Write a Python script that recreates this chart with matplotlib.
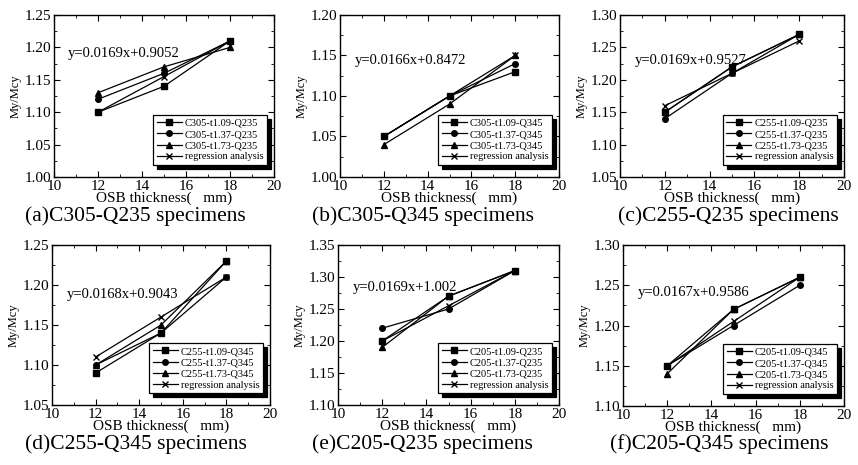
import numpy as np
import matplotlib
matplotlib.use("Agg")
import matplotlib.pyplot as plt
from matplotlib.ticker import MultipleLocator, FormatStrFormatter

plt.rcParams['font.family'] = ['Liberation Serif', 'DejaVu Serif']
plt.rcParams['mathtext.fontset'] = 'stix'

# OSB thickness (mm)
thickness = [12, 15, 18]

# My/Mcy: three section thicknesses + regression points
a_t109 = [1.10, 1.14, 1.21]
a_t137 = [1.12, 1.16, 1.21]
a_t173 = [1.13, 1.17, 1.20]
a_reg = [1.10, 1.155, 1.21]

b_t109 = [1.05, 1.10, 1.13]
b_t137 = [1.05, 1.10, 1.14]
b_t173 = [1.04, 1.09, 1.15]
b_reg = [1.05, 1.10, 1.15]

c_t109 = [1.15, 1.22, 1.27]
c_t137 = [1.14, 1.21, 1.27]
c_t173 = [1.15, 1.22, 1.27]
c_reg = [1.16, 1.21, 1.26]

d_t109 = [1.09, 1.14, 1.23]
d_t137 = [1.10, 1.14, 1.21]
d_t173 = [1.10, 1.15, 1.23]
d_reg = [1.11, 1.16, 1.21]

e_t109 = [1.20, 1.27, 1.31]
e_t137 = [1.22, 1.25, 1.31]
e_t173 = [1.19, 1.27, 1.31]
e_reg = [1.20, 1.255, 1.31]

f_t109 = [1.15, 1.22, 1.26]
f_t137 = [1.15, 1.20, 1.25]
f_t173 = [1.14, 1.22, 1.26]
f_reg = [1.15, 1.205, 1.26]

sections = ["C305", "C305", "C255", "C255", "C205", "C205"]
steels = ["Q235", "Q345", "Q235", "Q345", "Q235", "Q345"]
captions = ["(a)C305-Q235 specimens", "(b)C305-Q345 specimens", "(c)C255-Q235 specimens",
            "(d)C255-Q345 specimens", "(e)C205-Q235 specimens", "(f)C205-Q345 specimens"]
equations = ["y=0.0169x+0.9052", "y=0.0166x+0.8472", "y=0.0169x+0.9527",
             "y=0.0168x+0.9043", "y=0.0169x+1.002", "y=0.0167x+0.9586"]
eq_pos = [(10.64, 1.191), (10.68, 1.144), (10.67, 1.23),
          (10.69, 1.1875), (10.68, 1.284), (10.68, 1.241)]
ylims = [(1.00, 1.25), (1.00, 1.20), (1.05, 1.30), (1.05, 1.25), (1.10, 1.35), (1.10, 1.30)]
data = [(a_t109, a_t137, a_t173, a_reg), (b_t109, b_t137, b_t173, b_reg),
        (c_t109, c_t137, c_t173, c_reg), (d_t109, d_t137, d_t173, d_reg),
        (e_t109, e_t137, e_t173, e_reg), (f_t109, f_t137, f_t173, f_reg)]

# axes boxes in pixels: left, top, right, bottom
boxes = [(54, 15, 274, 177), (340, 15, 559, 177), (620, 15, 844, 177),
         (52, 245, 270, 405), (338, 245, 559, 405), (623, 245, 844, 406)]
cap_pos = [(25, 216), (312, 216), (618, 216), (25, 444), (312, 444), (610, 444)]

W, H = 858, 465
fig = plt.figure(figsize=(W / 100, H / 100), dpi=100)

for ii in range(6):
    l, t, r, b = boxes[ii]
    ax = fig.add_axes([l / W, 1 - b / H, (r - l) / W, (b - t) / H])
    s109, s137, s173, sreg = data[ii]
    kw = dict(color="black", lw=0.9, ms=4)
    ax.plot(thickness, s109, marker="s", label=f"{sections[ii]}-t1.09-{steels[ii]}", **kw)
    ax.plot(thickness, s137, marker="o", label=f"{sections[ii]}-t1.37-{steels[ii]}", **kw)
    ax.plot(thickness, s173, marker="^", label=f"{sections[ii]}-t1.73-{steels[ii]}", **kw)
    ax.plot(thickness, sreg, marker="x", label="regression analysis", color="black", lw=0.9, ms=5, mew=1)

    ax.set_xlim(10, 20)
    ax.set_ylim(*ylims[ii])
    ax.xaxis.set_major_locator(MultipleLocator(2))
    ax.xaxis.set_minor_locator(MultipleLocator(1))
    ax.yaxis.set_major_locator(MultipleLocator(0.05))
    ax.yaxis.set_minor_locator(MultipleLocator(0.025))
    ax.yaxis.set_major_formatter(FormatStrFormatter("%.2f"))
    ax.tick_params(which="both", direction="in", top=True, right=True, labelsize=11, pad=2)
    ax.tick_params(which="major", length=4, width=0.8)
    ax.tick_params(which="minor", length=2, width=0.6)
    for sp in ax.spines.values():
        sp.set_linewidth(1.0)

    ax.set_xlabel("OSB thickness(   mm)", fontsize=11, labelpad=-1)
    ax.set_ylabel("My/Mcy", fontsize=9, labelpad=2)
    ax.text(eq_pos[ii][0], eq_pos[ii][1], equations[ii], fontsize=10.5, va="center", ha="left")

    ax.legend(loc="lower right", bbox_to_anchor=(0.968, 0.074), borderaxespad=0,
              fontsize=7.5, frameon=True, fancybox=False, edgecolor="black",
              handlelength=2.4, handletextpad=0.3, labelspacing=0.18, borderpad=0.35,
              shadow={"ox": 3, "oy": -3, "facecolor": "black", "edgecolor": "black", "alpha": 1})
    ax.get_legend().get_frame().set_linewidth(0.9)

    cx, cy = cap_pos[ii]
    fig.text(cx / W, 1 - cy / H, captions[ii], fontsize=15.5, ha="left", va="center")

fig.savefig("out.png", dpi=100)
